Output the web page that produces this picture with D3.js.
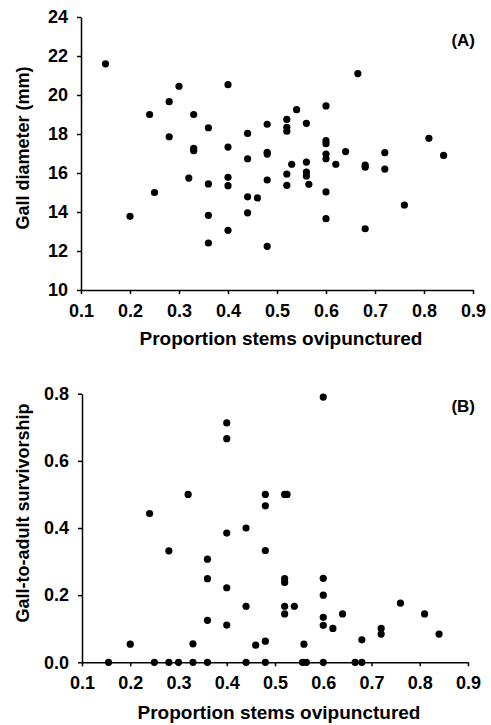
<!DOCTYPE html>
<html lang="en">
<head>
  <meta charset="UTF-8">
  <title>Gall diameter and survivorship vs. proportion stems ovipunctured</title>
  <script src="https://d3js.org/d3.v7.min.js"></script>
  <style>
    body {
      margin: 0;
      background: #ffffff;
      font-family: Arial, "Liberation Sans", sans-serif;
    }
    .axis path,
    .axis line {
      stroke: #000;
      stroke-width: 1.5px;
    }
    .axis text {
      fill: #000;
      font-size: 18px;
      font-weight: bold;
      font-family: Arial, "Liberation Sans", sans-serif;
    }
    .label {
      font-weight: bold;
      fill: #000;
    }
    .dot {
      fill: #000;
    }
  </style>
</head>
<body>
  <div id="chart"></div>
  <script>
    // panel (A): gall diameter (mm) against proportion of stems ovipunctured
    const propA = [0.15, 0.20, 0.24, 0.25, 0.28, 0.28, 0.30, 0.32, 0.33, 0.33,
      0.33, 0.36, 0.36, 0.36, 0.36, 0.40, 0.40, 0.40, 0.40, 0.40,
      0.44, 0.44, 0.44, 0.44, 0.46, 0.48, 0.48, 0.48, 0.48, 0.48,
      0.52, 0.52, 0.52, 0.52, 0.52, 0.53, 0.54, 0.56, 0.56, 0.56,
      0.56, 0.565, 0.60, 0.60, 0.60, 0.60, 0.60, 0.60, 0.60, 0.62,
      0.64, 0.665, 0.68, 0.68, 0.68, 0.72, 0.72, 0.76, 0.81, 0.84];
    const gallDiameter = [21.6, 13.78, 19.0, 15.0, 19.66, 17.86, 20.45, 15.74, 19.0, 17.27,
      17.14, 18.32, 15.44, 13.83, 12.41, 20.53, 17.33, 15.78, 15.35, 13.06,
      18.03, 16.73, 14.78, 13.96, 14.72, 18.5, 17.06, 16.97, 15.64, 12.24,
      18.75, 18.34, 18.14, 15.95, 15.37, 16.45, 19.25, 18.55, 16.56, 16.05,
      15.85, 15.42, 19.44, 17.66, 17.5, 16.97, 16.73, 15.03, 13.66, 16.45,
      17.1, 21.1, 16.4, 16.3, 13.14, 17.04, 16.2, 14.36, 17.78, 16.9];

    // panel (B): gall-to-adult survivorship against proportion of stems ovipunctured
    const propB = [0.155, 0.20, 0.24, 0.25, 0.28, 0.28, 0.30, 0.32, 0.33, 0.33,
      0.36, 0.36, 0.36, 0.36, 0.40, 0.40, 0.40, 0.40, 0.40, 0.44,
      0.44, 0.44, 0.46, 0.48, 0.48, 0.48, 0.48, 0.48, 0.52, 0.525,
      0.52, 0.52, 0.52, 0.52, 0.54, 0.557, 0.56, 0.565, 0.60, 0.60,
      0.60, 0.60, 0.60, 0.60, 0.62, 0.64, 0.666, 0.68, 0.68, 0.72,
      0.72, 0.76, 0.81, 0.84];
    const survivorship = [0, 0.054, 0.443, 0, 0.332, 0, 0, 0.5, 0.055, 0,
      0.307, 0.249, 0.125, 0, 0.713, 0.666, 0.385, 0.222, 0.111, 0.4,
      0.167, 0, 0.051, 0.5, 0.466, 0.333, 0.063, 0, 0.5, 0.5,
      0.249, 0.238, 0.167, 0.144, 0.167, 0, 0.054, 0, 0.79, 0.25,
      0.2, 0.134, 0.11, 0, 0.101, 0.144, 0, 0.067, 0, 0.101,
      0.084, 0.176, 0.144, 0.084];

    const xTicks = [0.1, 0.2, 0.3, 0.4, 0.5, 0.6, 0.7, 0.8, 0.9];
    const yTicksA = [10, 12, 14, 16, 18, 20, 22, 24];
    const yTicksB = [0.0, 0.2, 0.4, 0.6, 0.8];
    const xTitle = "Proportion stems ovipunctured";

    const width = 491, height = 725;

    const svg = d3.select("#chart")
      .append("svg")
      .attr("width", width)
      .attr("height", height);

    function panel(cfg) {
      const x = d3.scaleLinear().domain([0.1, 0.9]).range([cfg.left, cfg.right]);
      const y = d3.scaleLinear().domain(cfg.yDomain).range([cfg.bottom, cfg.top]);
      const g = svg.append("g");

      g.append("g")
        .attr("class", "axis")
        .attr("transform", "translate(0," + cfg.bottom + ")")
        .call(d3.axisBottom(x).tickValues(xTicks).tickFormat(d3.format(".1f"))
          .tickSizeInner(4).tickSizeOuter(0).tickPadding(10));

      g.append("g")
        .attr("class", "axis")
        .attr("transform", "translate(" + cfg.left + ",0)")
        .call(d3.axisLeft(y).tickValues(cfg.yTicks).tickFormat(cfg.yFormat)
          .tickSizeInner(4).tickSizeOuter(0).tickPadding(9));

      g.selectAll(".dot")
        .data(cfg.xs)
        .enter().append("circle")
        .attr("class", "dot")
        .attr("cx", d => x(d))
        .attr("cy", (d, i) => y(cfg.ys[i]))
        .attr("r", 3.6);

      // x axis title
      g.append("text")
        .attr("class", "label")
        .attr("text-anchor", "middle")
        .attr("x", (cfg.left + cfg.right) / 2 + 4)
        .attr("y", cfg.xTitleY)
        .style("font-size", "19px")
        .text(xTitle);

      // y axis title
      g.append("text")
        .attr("class", "label")
        .attr("text-anchor", "middle")
        .attr("transform", "translate(29," + cfg.yTitleMid + ") rotate(-90)")
        .style("font-size", "18px")
        .text(cfg.yTitle);

      // panel letter
      g.append("text")
        .attr("class", "label")
        .attr("text-anchor", "end")
        .attr("x", 475)
        .attr("y", cfg.letterY)
        .style("font-size", "17px")
        .text(cfg.letter);
    }

    panel({
      xs: propA, ys: gallDiameter,
      left: 81, right: 473, top: 17, bottom: 290,
      yDomain: [10, 24], yTicks: yTicksA, yFormat: d3.format("d"),
      yTitle: "Gall diameter (mm)", yTitleMid: 148,
      xTitleY: 345, letter: "(A)", letterY: 46
    });

    panel({
      xs: propB, ys: survivorship,
      left: 82, right: 468, top: 393.7, bottom: 662.3,
      yDomain: [0, 0.8], yTicks: yTicksB, yFormat: d3.format(".1f"),
      yTitle: "Gall-to-adult survivorship", yTitleMid: 513,
      xTitleY: 719, letter: "(B)", letterY: 412
    });
  </script>
</body>
</html>
